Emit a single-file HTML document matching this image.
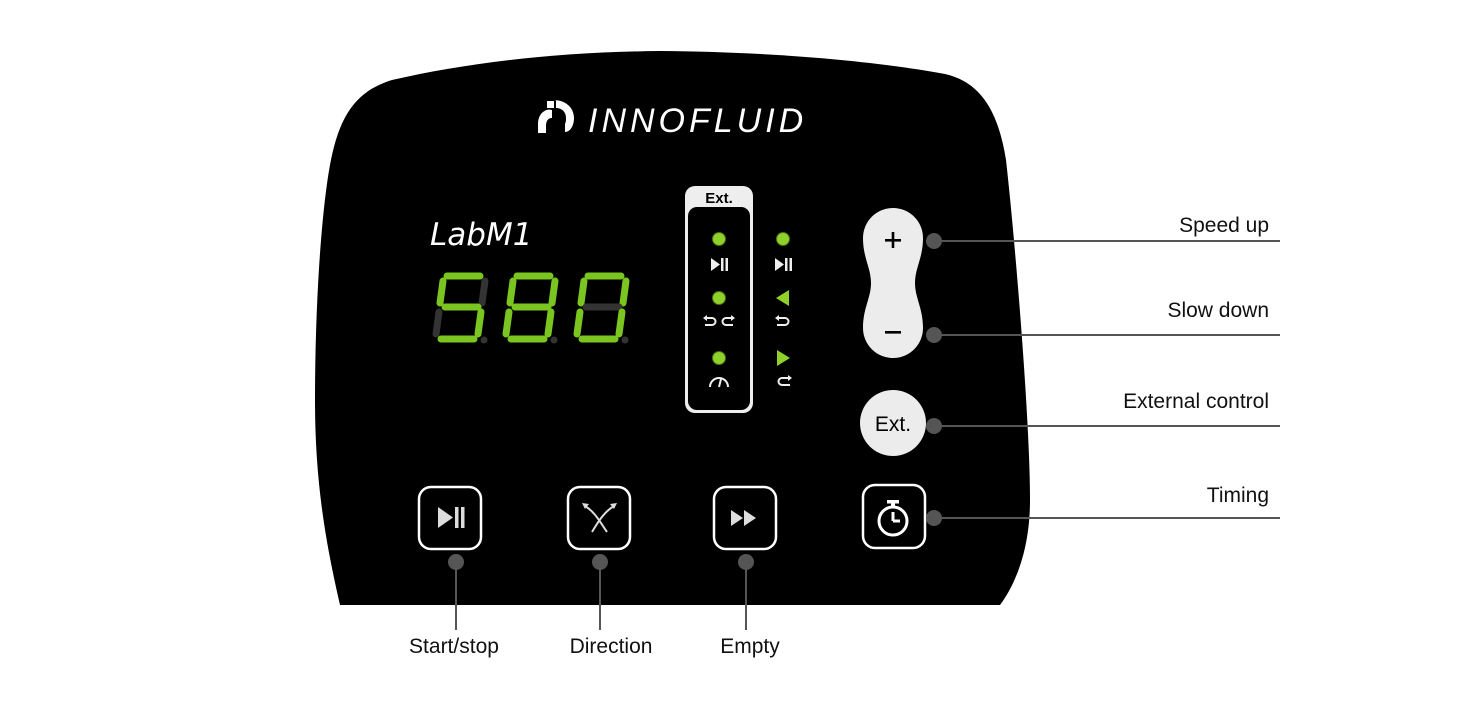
<!DOCTYPE html>
<html><head><meta charset="utf-8"><style>
html,body{margin:0;padding:0;background:#fff;}
svg{display:block;}
</style></head><body>
<svg width="1484" height="706" viewBox="0 0 1484 706" xmlns="http://www.w3.org/2000/svg" font-family="Liberation Sans, sans-serif">
<rect width="1484" height="706" fill="#fff"/>
<!-- panel -->
<path d="M340,605 C325,540 315,480 315,400 C315,300 322,200 332,155 C342,110 360,90 392,80 C470,62 560,52 660,51 C780,52 880,62 945,74 C980,82 998,110 1006,160 C1015,240 1030,420 1030,500 C1030,550 1015,585 1000,605 Z" fill="#000"/>
<!-- logo -->
<g fill="#fff">
<path d="M538,133 L538,124 C538,113 546,108 552,110 L552,118 C548,118 546,121 546,126 L546,133 Z"/>
<path d="M553,100 C566,100 574,108 574,118 C574,126 570,132 565,132 L565,124 C566,122 566,120 566,118 C566,112 562,108 556,108 L556,100 Z"/>
<path d="M547,101 L554,101 L554,108 L547,108 Z"/>
</g>
<text x="588" y="132" fill="#fff" font-size="34" font-style="italic" letter-spacing="4">INNOFLUID</text>
<!-- LabM1 -->
<text x="430" y="245" fill="#fff" font-size="31" font-style="italic" font-family="DejaVu Sans, sans-serif">LabM1</text>
<!-- digits -->
<g stroke-linecap="round" stroke-width="7">
<g>
<line x1="447" y1="276" x2="480" y2="276" stroke="#7ac520"/>
<line x1="443" y1="281" x2="440" y2="303" stroke="#7ac520"/>
<line x1="485" y1="281" x2="482" y2="303" stroke="#333"/>
<line x1="445" y1="307" x2="478" y2="307" stroke="#7ac520"/>
<line x1="439" y1="312" x2="436" y2="334" stroke="#333"/>
<line x1="481" y1="312" x2="478" y2="334" stroke="#7ac520"/>
<line x1="441" y1="339" x2="474" y2="339" stroke="#7ac520"/>
</g>
<g transform="translate(70,0)">
<line x1="447" y1="276" x2="480" y2="276" stroke="#7ac520"/>
<line x1="443" y1="281" x2="440" y2="303" stroke="#7ac520"/>
<line x1="485" y1="281" x2="482" y2="303" stroke="#7ac520"/>
<line x1="445" y1="307" x2="478" y2="307" stroke="#7ac520"/>
<line x1="439" y1="312" x2="436" y2="334" stroke="#7ac520"/>
<line x1="481" y1="312" x2="478" y2="334" stroke="#7ac520"/>
<line x1="441" y1="339" x2="474" y2="339" stroke="#7ac520"/>
</g>
<g transform="translate(141,0)">
<line x1="447" y1="276" x2="480" y2="276" stroke="#7ac520"/>
<line x1="443" y1="281" x2="440" y2="303" stroke="#7ac520"/>
<line x1="485" y1="281" x2="482" y2="303" stroke="#7ac520"/>
<line x1="445" y1="307" x2="478" y2="307" stroke="#333"/>
<line x1="439" y1="312" x2="436" y2="334" stroke="#7ac520"/>
<line x1="481" y1="312" x2="478" y2="334" stroke="#7ac520"/>
<line x1="441" y1="339" x2="474" y2="339" stroke="#7ac520"/>
</g>
</g>
<circle cx="484" cy="340" r="3.5" fill="#333"/><circle cx="554" cy="340" r="3.5" fill="#333"/><circle cx="625" cy="340" r="3.5" fill="#333"/>
<!-- ext box -->
<rect x="685" y="186" width="68" height="227" rx="10" fill="#eee"/>
<rect x="688" y="207" width="62" height="203" rx="9" fill="#000"/>
<text x="719" y="203" fill="#000" font-size="15" font-weight="bold" text-anchor="middle">Ext.</text>
<g fill="#8fd12a" stroke="#4a7010" stroke-width="1">
<circle cx="719" cy="239" r="6.5"/><circle cx="719" cy="298" r="6.5"/><circle cx="719" cy="358" r="6.5"/><circle cx="783" cy="239" r="6.5"/>
</g>
<g fill="#eee">
<path d="M711,258 L711,271 L720,264.5 Z"/><rect x="721" y="258" width="2.5" height="13"/><rect x="725.5" y="258" width="2.5" height="13"/>
<path d="M775,258 L775,271 L784,264.5 Z"/><rect x="785" y="258" width="2.5" height="13"/><rect x="789.5" y="258" width="2.5" height="13"/>
</g>
<g fill="none" stroke="#eee" stroke-width="2">
<path d="M705,318 L712,318 A3.5,3.5 0 0 1 712,325 L705,325"/>
<path d="M733,318 L726,318 A3.5,3.5 0 0 0 726,325 L733,325"/>
<path d="M777,318 L785,318 A3.5,3.5 0 0 1 785,325 L777,325"/>
<path d="M790,378 L782,378 A3.5,3.5 0 0 0 782,385 L790,385"/>
</g>
<path d="M703,318 L707,315 L707,321 Z M735,318 L731,315 L731,321 Z M775,318 L779,315 L779,321 Z M792,378 L788,375 L788,381 Z" fill="#eee"/>
<path d="M710,387 A9,9 0 0 1 728,387" fill="none" stroke="#eee" stroke-width="2"/>
<line x1="719" y1="387" x2="721" y2="379" stroke="#eee" stroke-width="2"/>
<path d="M789,290 L776,298 L789,306 Z" fill="#8fd12a"/>
<path d="M777,350 L790,358 L777,366 Z" fill="#8fd12a"/>
<!-- capsule -->
<path d="M863,238 A30,30 0 0 1 923,238 C923,258 915,268 915,283 C915,298 923,308 923,328 A30,30 0 0 1 863,328 C863,308 871,298 871,283 C871,268 863,258 863,238 Z" fill="#ececec"/>
<rect x="885" y="239" width="16" height="2.6" fill="#000"/><rect x="891.7" y="232" width="2.6" height="16" fill="#000"/>
<rect x="885" y="331" width="16" height="2.6" fill="#000"/>
<circle cx="893" cy="423" r="33" fill="#ececec"/>
<text x="893" y="431" fill="#000" font-size="21" text-anchor="middle">Ext.</text>
<!-- bottom buttons -->
<g fill="none" stroke="#fff" stroke-width="2.5">
<rect x="419" y="487" width="62" height="62" rx="12"/>
<rect x="568" y="487" width="62" height="62" rx="12"/>
<rect x="714" y="487" width="62" height="62" rx="12"/>
<rect x="863" y="485" width="62" height="63" rx="12"/>
</g>
<g fill="#ddd">
<path d="M438,507 L438,528 L453,517.5 Z"/><rect x="455" y="507" width="3.5" height="21"/><rect x="461" y="507" width="3.5" height="21"/>
<path d="M731,510 L731,526 L743,518 Z"/><path d="M744,510 L744,526 L756,518 Z"/>
</g>
<path d="M585,506 C595,512 600,522 607,532 M614,506 C604,512 598,522 592,532" fill="none" stroke="#ddd" stroke-width="2"/>
<path d="M582,503 L589,504 L585,509 Z M617,503 L610,504 L614,509 Z" fill="#ddd"/>
<g fill="none" stroke="#fff" stroke-width="3">
<circle cx="893" cy="521" r="14"/>
<line x1="893" y1="521" x2="893" y2="512"/><line x1="893" y1="521" x2="900" y2="521"/>
</g>
<rect x="887" y="500" width="12" height="3.5" fill="#fff"/><rect x="891" y="502" width="4" height="6" fill="#fff"/>
<!-- connectors -->
<g stroke="#555" stroke-width="2">
<line x1="935" y1="241" x2="1280" y2="241"/>
<line x1="935" y1="335" x2="1280" y2="335"/>
<line x1="935" y1="426" x2="1280" y2="426"/>
<line x1="935" y1="518" x2="1280" y2="518"/>
<line x1="456" y1="562" x2="456" y2="630"/>
<line x1="600" y1="562" x2="600" y2="630"/>
<line x1="746" y1="562" x2="746" y2="630"/>
</g>
<g fill="#555">
<circle cx="934" cy="241" r="8"/><circle cx="934" cy="335" r="8"/><circle cx="934" cy="426" r="8"/><circle cx="934" cy="518" r="8"/>
<circle cx="456" cy="562" r="8"/><circle cx="600" cy="562" r="8"/><circle cx="746" cy="562" r="8"/>
</g>
<g fill="#111" font-size="21">
<text x="1269" y="232" text-anchor="end">Speed up</text>
<text x="1269" y="317" text-anchor="end">Slow down</text>
<text x="1269" y="408" text-anchor="end">External control</text>
<text x="1269" y="502" text-anchor="end">Timing</text>
<text x="454" y="653" text-anchor="middle">Start/stop</text>
<text x="611" y="653" text-anchor="middle">Direction</text>
<text x="750" y="653" text-anchor="middle">Empty</text>
</g>
</svg>
</body></html>
